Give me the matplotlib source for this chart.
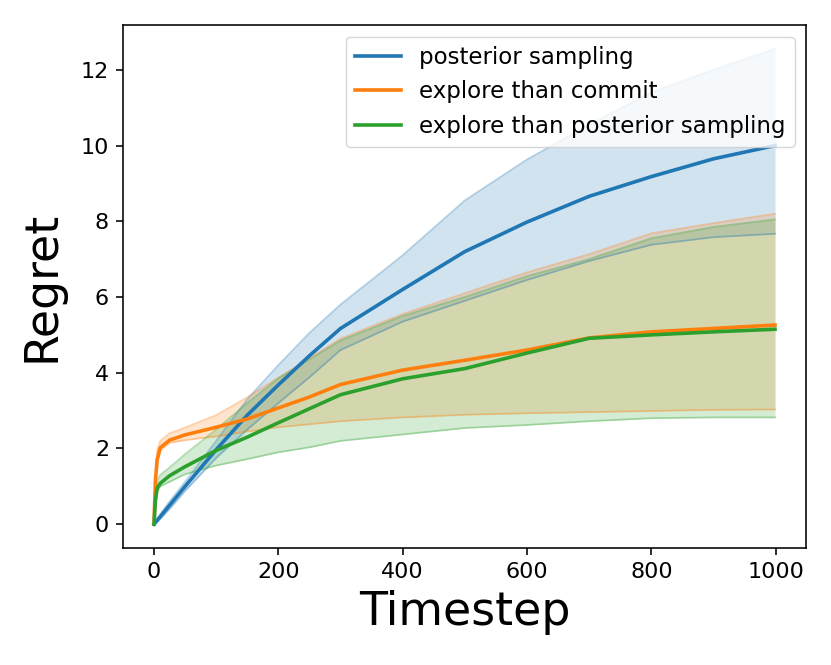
import matplotlib
matplotlib.use("Agg")
import matplotlib.pyplot as plt
import numpy as np

t = [0, 2, 5, 10, 25, 50, 100, 150, 200, 250, 300, 400, 500, 600, 700, 800, 900, 999]

ps_mean = [0, 0.04, 0.1, 0.2, 0.5, 1.0, 1.97, 2.88, 3.68, 4.45, 5.17, 6.2, 7.2, 7.98, 8.66, 9.18, 9.65, 10.0]
ps_upper = [0, 0.06, 0.14, 0.26, 0.6, 1.12, 2.2, 3.3, 4.2, 5.05, 5.8, 7.1, 8.55, 9.63, 10.55, 11.4, 12.0, 12.55]
ps_lower = [0, 0.02, 0.06, 0.14, 0.4, 0.88, 1.75, 2.5, 3.2, 3.88, 4.6, 5.35, 5.9, 6.45, 6.95, 7.38, 7.58, 7.67]

etc_mean = [0, 1.1, 1.7, 2.02, 2.22, 2.36, 2.56, 2.78, 3.07, 3.36, 3.69, 4.07, 4.33, 4.6, 4.92, 5.08, 5.17, 5.26]
etc_upper = [0, 1.2, 1.95, 2.2, 2.4, 2.55, 2.88, 3.35, 3.87, 4.38, 4.9, 5.55, 6.1, 6.65, 7.13, 7.68, 7.95, 8.2]
etc_lower = [0, 1.0, 1.6, 1.95, 2.15, 2.22, 2.32, 2.45, 2.56, 2.64, 2.72, 2.82, 2.89, 2.93, 2.96, 2.99, 3.02, 3.03]

etps_mean = [0, 0.6, 0.95, 1.08, 1.28, 1.52, 1.95, 2.3, 2.68, 3.05, 3.42, 3.84, 4.11, 4.52, 4.91, 5.0, 5.08, 5.15]
etps_upper = [0, 0.8, 1.15, 1.3, 1.5, 1.85, 2.5, 3.2, 3.85, 4.35, 4.85, 5.5, 6.0, 6.55, 7.0, 7.55, 7.85, 8.05]
etps_lower = [0, 0.4, 0.85, 1.0, 1.12, 1.32, 1.55, 1.72, 1.9, 2.03, 2.2, 2.37, 2.54, 2.62, 2.72, 2.8, 2.82, 2.82]

labels = ["posterior sampling", "explore than commit", "explore than posterior sampling"]
colors = ["#1f77b4", "#ff7f0e", "#2ca02c"]

fig = plt.figure(figsize=(8.31, 6.65), dpi=100)
ax = fig.add_axes([0.148, 0.176, 0.822, 0.786])

series = [(ps_mean, ps_lower, ps_upper), (etc_mean, etc_lower, etc_upper), (etps_mean, etps_lower, etps_upper)]
for (m, lo, hi), lab, c in zip(series, labels, colors):
    ax.plot(t, m, color=c, lw=2.6, label=lab, zorder=3)
    ax.fill_between(t, lo, hi, color=c, alpha=0.2, lw=0)
    ax.plot(t, lo, color=c, alpha=0.35, lw=1.3)
    ax.plot(t, hi, color=c, alpha=0.35, lw=1.3)

ax.set_xlabel("Timestep", fontsize=33, labelpad=6)
ax.set_ylabel("Regret", fontsize=33, labelpad=12)
ax.set_xticks([0, 200, 400, 600, 800, 1000])
ax.set_yticks([0, 2, 4, 6, 8, 10, 12])
ax.tick_params(labelsize=16, length=5, width=1.15, pad=5)
for s in ax.spines.values():
    s.set_linewidth(1.15)
ax.legend(loc="upper right", fontsize=16.5)

fig.savefig("out.png", dpi=100)
